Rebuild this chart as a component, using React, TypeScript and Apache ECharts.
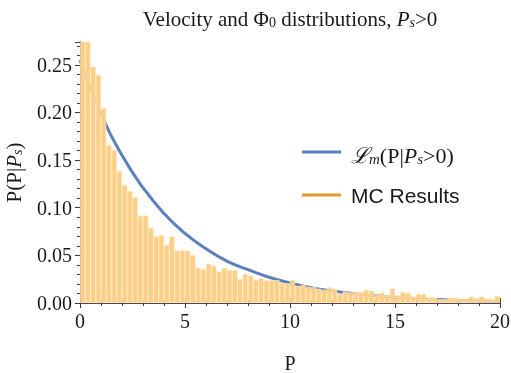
import React, { useEffect, useRef } from "react";
import * as echarts from "echarts";

const binWidth = 0.25;
const histValues = [
  0.29, 0.28, 0.248, 0.2395, 0.2045, 0.166, 0.1607, 0.1387, 0.124, 0.1176,
  0.111, 0.0914, 0.0917, 0.079, 0.0697, 0.0714, 0.061, 0.07, 0.055, 0.0555,
  0.055, 0.0504, 0.037, 0.0354, 0.041, 0.039, 0.033, 0.037, 0.0347, 0.0347,
  0.0252, 0.0305, 0.0287, 0.0242, 0.026, 0.024, 0.024, 0.024, 0.021, 0.0207,
  0.024, 0.0179, 0.019, 0.017, 0.0165, 0.015, 0.014, 0.0165, 0.015, 0.0095,
  0.0119, 0.011, 0.012, 0.0115, 0.0137, 0.013, 0.0084, 0.011, 0.0084, 0.0154,
  0.008, 0.0116, 0.0105, 0.0067, 0.0095, 0.0095, 0.006, 0.006, 0.0039, 0.004,
  0.0056, 0.0056, 0.0046, 0.0042, 0.0067, 0.005, 0.0067, 0.0046, 0.004, 0.0074,
];
const curveX = [0, 1, 2, 3, 4, 5, 6, 7, 8, 9, 10, 11, 12, 13, 14, 15, 16, 17, 18, 19, 20];
const curveY = [
  0.255, 0.199, 0.155, 0.121, 0.094, 0.073, 0.057, 0.044, 0.035, 0.027, 0.021,
  0.016, 0.0127, 0.0099, 0.0077, 0.006, 0.0047, 0.0036, 0.0028, 0.0022, 0.0017,
];
const xTicks = [0, 5, 10, 15, 20];
const yTicks = [0, 0.05, 0.1, 0.15, 0.2, 0.25];

const SERIF = "'Liberation Serif', 'DejaVu Serif', serif";
const SANS = "'Liberation Sans', Arial, sans-serif";
const AXIS = "#3a3a3a";
const TXT = "#1a1a1a";

export default function App() {
  const ref = useRef<HTMLDivElement>(null);
  useEffect(() => {
    if (!ref.current) return;
    const chart = echarts.init(ref.current, null, { renderer: "svg" });
    const barData = histValues.map((v, i) => [(i + 0.5) * binWidth, v]);
    const lineData = curveX.map((x, i) => [x, curveY[i]]);
    const axisCommon = {
      axisLine: { show: true, lineStyle: { color: AXIS, width: 1 } },
      axisTick: { show: true, inside: true, length: 5, lineStyle: { color: AXIS } },
      minorTick: { show: true, splitNumber: 5, length: 3, lineStyle: { color: AXIS } },
      splitLine: { show: false },
    };
    chart.setOption({
      animation: false,
      grid: { left: 80, right: 11, top: 42, bottom: 70, outerBoundsMode: "none", containLabel: false },
      xAxis: [
        {
          type: "value",
          min: 0,
          max: 20,
          interval: 5,
          position: "bottom",
          ...axisCommon,
          axisLabel: {
            fontFamily: SERIF,
            fontSize: 20,
            color: TXT,
            margin: 8,
            formatter: (v: number) => (xTicks.includes(v) ? String(v) : ""),
          },
          name: "P",
          nameLocation: "middle",
          nameGap: 50,
          nameTextStyle: { fontFamily: SERIF, fontSize: 20, color: TXT },
        },
        {
          type: "value",
          min: 0,
          max: 20,
          interval: 5,
          position: "top",
          ...axisCommon,
          axisLabel: { show: false },
        },
      ],
      yAxis: [
        {
          type: "value",
          min: 0,
          max: 0.274,
          interval: 0.05,
          position: "left",
          ...axisCommon,
          axisLabel: {
            fontFamily: SERIF,
            fontSize: 20,
            color: TXT,
            margin: 8,
            showMaxLabel: false,
            formatter: (v: number) =>
              yTicks.some((t) => Math.abs(t - v) < 1e-9) ? v.toFixed(2) : "",
          },
          name: "{a|P(P|}{i|P}{s|s}{a|)}",
          nameLocation: "middle",
          nameGap: 56,
          nameRotate: 90,
          nameTextStyle: {
            rich: {
              a: { fontFamily: SERIF, fontSize: 21, color: TXT, lineHeight: 25, verticalAlign: "bottom" },
              i: { fontFamily: SERIF, fontSize: 21, fontStyle: "italic", color: TXT, lineHeight: 25, verticalAlign: "bottom" },
              s: { fontFamily: SERIF, fontSize: 14, fontStyle: "italic", color: TXT, lineHeight: 14, verticalAlign: "bottom" },
            },
          },
        },
        {
          type: "value",
          min: 0,
          max: 0.274,
          interval: 0.05,
          position: "right",
          ...axisCommon,
          axisLabel: { show: false },
        },
      ],
      series: [
        {
          type: "line",
          data: lineData,
          smooth: true,
          showSymbol: false,
          symbol: "none",
          z: 1,
          lineStyle: { color: "#5B80BE", width: 3 },
          clip: true,
        },
        {
          type: "bar",
          data: barData,
          barWidth: 5.25,
          z: 2,
          clip: true,
          itemStyle: {
            color: "rgb(252,207,134)",
            borderColor: "rgba(255,230,190,1)",
            borderWidth: 0.6,
          },
        },
      ],
      graphic: [
        {
          type: "text",
          x: 290,
          y: 17,
          style: {
            text: "{a|Velocity and Φ}{s|0}{a| distributions, }{i|P}{si|s}{a|>0}",
            align: "center",
            verticalAlign: "middle",
            rich: {
              a: { fontFamily: SERIF, fontSize: 21, fill: TXT, lineHeight: 25, verticalAlign: "bottom" },
              i: { fontFamily: SERIF, fontSize: 21, fontStyle: "italic", fill: TXT, lineHeight: 25, verticalAlign: "bottom" },
              s: { fontFamily: SERIF, fontSize: 14, fill: TXT, lineHeight: 14, verticalAlign: "bottom" },
              si: { fontFamily: SERIF, fontSize: 14, fontStyle: "italic", fill: TXT, lineHeight: 14, verticalAlign: "bottom" },
            },
          },
        },
        {
          type: "line",
          shape: { x1: 302, y1: 152, x2: 341, y2: 152 },
          style: { stroke: "#5B80BE", lineWidth: 3 },
        },
        {
          type: "text",
          x: 351,
          y: 153,
          style: {
            text: "{L|ℒ}{m|m}{a|(P|}{i|P}{s|s}{a|>0)}",
            verticalAlign: "middle",
            rich: {
              L: { fontFamily: SERIF, fontSize: 22, fontStyle: "italic", fill: TXT, lineHeight: 27, verticalAlign: "bottom" },
              m: { fontFamily: SERIF, fontSize: 15, fontStyle: "italic", fill: TXT, lineHeight: 15, verticalAlign: "bottom" },
              a: { fontFamily: SERIF, fontSize: 22, fill: TXT, lineHeight: 27, verticalAlign: "bottom" },
              i: { fontFamily: SERIF, fontSize: 22, fontStyle: "italic", fill: TXT, lineHeight: 27, verticalAlign: "bottom" },
              s: { fontFamily: SERIF, fontSize: 15, fontStyle: "italic", fill: TXT, lineHeight: 15, verticalAlign: "bottom" },
            },
          },
        },
        {
          type: "line",
          shape: { x1: 302, y1: 195, x2: 341, y2: 195 },
          style: { stroke: "#E09C26", lineWidth: 3 },
        },
        {
          type: "text",
          x: 351,
          y: 195,
          style: {
            text: "MC Results",
            fontFamily: SANS,
            fontSize: 21,
            fill: TXT,
            verticalAlign: "middle",
          },
        },
      ],
    });
    return () => chart.dispose();
  }, []);
  return (
    <div
      ref={ref}
      style={{ position: "fixed", left: 0, top: 0, width: 511, height: 373 }}
    />
  );
}
